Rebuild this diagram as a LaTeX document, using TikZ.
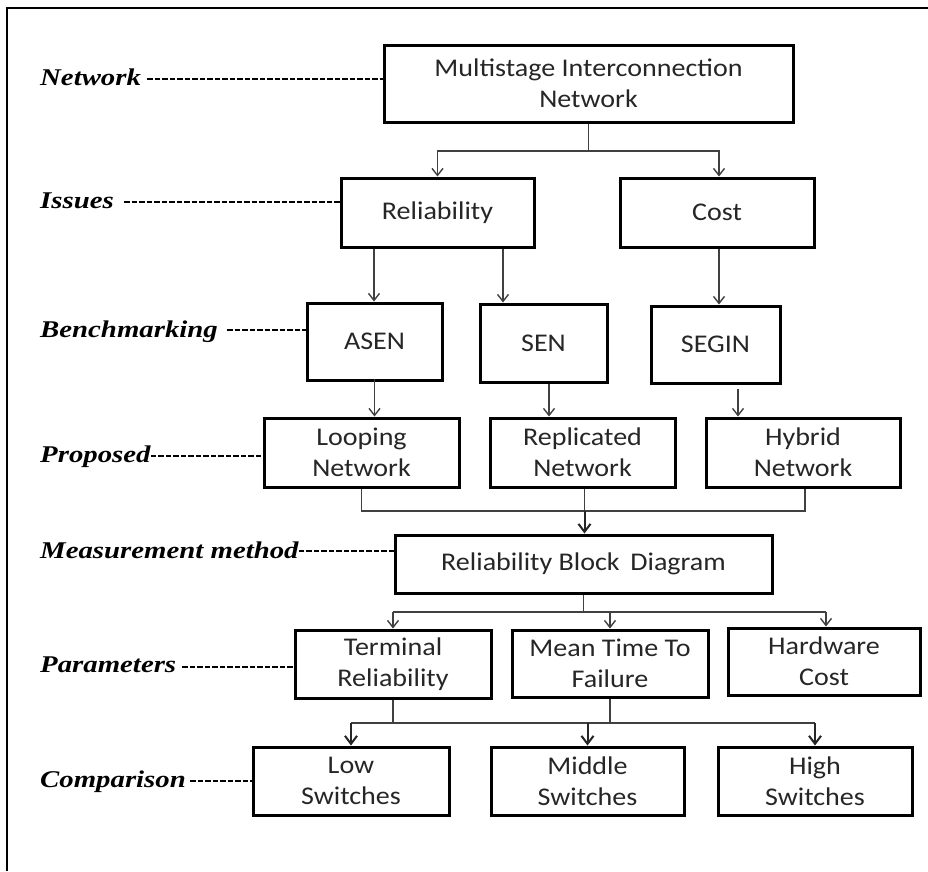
\documentclass[tikz,border=0pt]{standalone}
\usepackage{fontspec}
\setmainfont{Carlito}
\newfontfamily\boxfont[FakeStretch=1.1]{Carlito}
\newfontfamily\labfont[FakeStretch=1.2]{Liberation Serif}
\usetikzlibrary{arrows.meta,calc}
\tikzset{
  box/.style={draw=black, line width=3pt, inner sep=0pt, align=center,
    font=\boxfont\fontsize{25.5}{31}\selectfont, text=black!85},
  lab/.style={anchor=base west, inner sep=0pt,
    font=\labfont\bfseries\itshape\fontsize{24}{28}\selectfont},
  dashline/.style={line width=2.5pt, dash pattern=on 5.5pt off 2pt},
  conn/.style={line width=1.4pt, draw=black!75},
  arr/.style={conn, -{Straight Barb[length=7pt,width=11pt,line width=1.4pt]}},
  arrb/.style={line width=2pt, draw=black!85, -{Straight Barb[length=8pt,width=12pt,line width=2pt]}},
}
\begin{document}
\begin{tikzpicture}[x=1pt,y=-1pt]
\useasboundingbox (0,0) rectangle (928,871);
% frame
\draw[line width=2pt] (928,8) -- (7,8) -- (7,871);

% boxes
\node[box, minimum width=409pt, minimum height=77pt] (mic) at (588.5,83.5) {Multistage Interconnection\\Network};
\node[box, minimum width=193pt, minimum height=69pt] (rel) at (437.5,212.5) {Reliability};
\node[box, minimum width=194pt, minimum height=69pt] (cost) at (717,212.5) {Cost};
\node[box, minimum width=135pt, minimum height=77pt] (asen) at (374.5,341.5) {ASEN};
\node[box, minimum width=127pt, minimum height=78pt] (sen) at (543.5,343) {SEN};
\node[box, minimum width=129pt, minimum height=77pt] (segin) at (715.5,344.5) {SEGIN};
\node[box, minimum width=195pt, minimum height=69pt] (loop) at (361.5,452.5) {Looping\\Network};
\node[box, minimum width=185pt, minimum height=69pt] (repl) at (582.5,452.5) {Replicated\\Network};
\node[box, minimum width=194pt, minimum height=69pt] (hyb) at (803,452.5) {Hybrid\\Network};
\node[box, minimum width=377pt, minimum height=58pt] (rbd) at (583.5,564) {Reliability Block\, Diagram};
\node[box, minimum width=196pt, minimum height=68pt] (term) at (393,664) {Terminal\\Reliability};
\node[box, minimum width=196pt, minimum height=67pt] (mttf) at (610,663.5) {Mean Time To\\Failure};
\node[box, minimum width=192pt, minimum height=67pt] (hw) at (824,661.5) {Hardware\\Cost};
\node[box, minimum width=196pt, minimum height=68pt] (low) at (351,781) {Low\\Switches};
\node[box, minimum width=193pt, minimum height=68pt] (mid) at (587.5,781) {Middle\\Switches};
\node[box, minimum width=194pt, minimum height=68pt] (high) at (815,781) {High\\Switches};

% labels
\node[lab] (l1) at (40,85) {Network};
\node[lab] (l2) at (40,208) {Issues};
\node[lab] (l3) at (40,337) {Benchmarking};
\node[lab] (l4) at (40,462) {Proposed};
\node[lab] (l5) at (40,558) {Measurement method};
\node[lab] (l6) at (40,672) {Parameters};
\node[lab] (l7) at (40,787) {Comparison};

\coordinate (d1) at ($(l1.base east)+(6,-6)$);
\coordinate (d2) at ($(l2.base east)+(10,-6)$);
\coordinate (d3) at ($(l3.base east)+(9,-7)$);
\coordinate (d4) at ($(l4.base east)+(0,-6)$);
\coordinate (d5) at ($(l5.base east)+(0,-7)$);
\coordinate (d6) at ($(l6.base east)+(6,-5)$);
\coordinate (d7) at ($(l7.base east)+(4,-6)$);
\draw[dashline] (d1) -- (d1 -| mic.west);
\draw[dashline] (d2) -- (d2 -| rel.west);
\draw[dashline] (d3) -- (d3 -| asen.west);
\draw[dashline] (d4) -- (d4 -| loop.west);
\draw[dashline] (d5) -- (d5 -| rbd.west);
\draw[dashline] (d6) -- (d6 -| term.west);
\draw[dashline] (d7) -- (d7 -| low.west);

% connectors: level 1
\coordinate (j1) at (588.5,151);
\draw[conn] (mic.south) -- (j1);
\draw[arr] (j1) -| (rel.north);
\draw[arr] (j1) -| ([xshift=2pt]cost.north);

% level 2
\coordinate (a1) at ([xshift=-63.5pt]rel.south);
\coordinate (a2) at ([xshift=65.5pt]rel.south);
\coordinate (a3) at ([xshift=2pt]cost.south);
\draw[arr] (a1) -- (a1 |- asen.north);
\draw[arr] (a2) -- (a2 |- sen.north);
\draw[arr] (a3) -- (a3 |- segin.north);

% level 3
\coordinate (b1) at ([yshift=3pt]asen.south);
\coordinate (b2) at ([xshift=5.5pt]sen.south);
\coordinate (b3) at ([xshift=22.5pt,yshift=-4pt]segin.south);
\draw[arr] (b1) -- (b1 |- loop.north);
\draw[arr] (b2) -- (b2 |- repl.north);
\draw[arr] (b3) -- (b3 |- hyb.north);

% level 4 merge
\coordinate (j2) at (583.5,511);
\draw[conn] (loop.south) |- ([xshift=2pt]hyb.south |- j2) -- ([xshift=2pt]hyb.south);
\draw[conn] ([xshift=2pt]repl.south) -- ([xshift=2pt]repl.south |- j2);
\draw[arrb] ([xshift=2pt]repl.south |- j2) -- ([xshift=2pt]repl.south |- rbd.north);

% level 5
\coordinate (j3) at (583.5,612);
\draw[conn] (rbd.south) -- (j3);
\draw[conn] (term.north |- j3) -- ([xshift=2pt]hw.north |- j3);
\draw[arr] (term.north |- j3) -- (term.north);
\draw[arr] (mttf.north |- j3) -- (mttf.north);
\draw[arr] ([xshift=2pt]hw.north |- j3) -- ([xshift=2pt]hw.north);

% level 6
\coordinate (j4) at (588,723);
\draw[conn] (term.south) -- (term.south |- j4);
\draw[conn] (mttf.south) -- (mttf.south |- j4);
\draw[conn, line width=1.8pt] (low.north |- j4) -- (high.north |- j4);
\draw[arrb] (low.north |- j4) -- (low.north);
\draw[arrb] (mid.north |- j4) -- (mid.north);
\draw[arrb] (high.north |- j4) -- (high.north);
\end{tikzpicture}
\end{document}
